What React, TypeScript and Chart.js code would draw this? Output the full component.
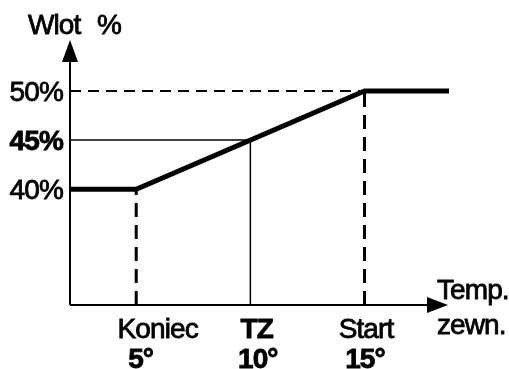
import React, { useEffect, useRef } from "react";
import { Chart, registerables } from "chart.js";

Chart.register(...registerables);

// Scale limits (axis origin and extents)
const X_MIN = 2.1;
const X_MAX = 18.7;
const Y_MIN = 28.2;
const Y_MAX = 55.2;

// Main curve: Wlot % vs outside temperature
const curveX = [X_MIN, 5, 15, X_MAX];
const curveY = [40, 40, 50, 50];

// Tick labels
const yTickValues = [40, 45, 50];
const yTickLabels = ["40%", "45%", "50%"];
const yTickBold = [false, true, false];

const xTickValues = [5, 10, 15];
const xTickNames = ["Koniec", "TZ", "Start"];
const xTickDegrees = ["5°", "10°", "15°"];
const xTickNameBold = [false, true, false];

const yAxisTitle = ["Wlot", "%"];
const xAxisTitle = ["Temp.", "zewn."];

const FONT = "'Liberation Sans', Arial, sans-serif";
const SIZE = 28;
// label shifts (px) relative to the tick position
const NAME_SHIFT = [21, 6, 1];
const DEG_SHIFT = [4, 7, 0];

function pts(xs: number[], ys: number[]) {
  return xs.map((x, i) => ({ x, y: ys[i] }));
}

function txt(ctx: any, s: string, x: number, y: number, align: string, bold: boolean) {
  ctx.font = `${bold ? "bold " : ""}${SIZE}px ${FONT}`;
  ctx.letterSpacing = "-0.9px";
  const w = ctx.measureText(s).width - 0.9;
  let x0 = x;
  if (align === "right") x0 = x - w;
  else if (align === "center") x0 = x - w / 2;
  ctx.textAlign = "left";
  ctx.fillText(s, x0, y);
  ctx.lineWidth = 0.8;
  ctx.strokeText(s, x0, y);
}

const overlay = {
  id: "overlay",
  afterDatasetsDraw(chart: any) {
    const { ctx, chartArea, scales } = chart;
    const xs = scales.x;
    const ys = scales.y;
    const left = chartArea.left;
    const bottom = chartArea.bottom;
    const top = chartArea.top;
    const right = chartArea.right;
    ctx.save();
    ctx.fillStyle = "#000";
    ctx.strokeStyle = "#000";
    // Y axis
    ctx.lineWidth = 2;
    ctx.beginPath();
    ctx.moveTo(left, bottom);
    ctx.lineTo(left, top + 20);
    ctx.stroke();
    ctx.beginPath();
    ctx.moveTo(left, top);
    ctx.lineTo(left - 8, top + 22);
    ctx.lineTo(left + 8, top + 22);
    ctx.closePath();
    ctx.fill();
    // X axis
    ctx.beginPath();
    ctx.moveTo(left, bottom);
    ctx.lineTo(right - 20, bottom);
    ctx.stroke();
    ctx.beginPath();
    ctx.moveTo(right - 1, bottom);
    ctx.lineTo(right - 22, bottom - 8);
    ctx.lineTo(right - 22, bottom + 8);
    ctx.closePath();
    ctx.fill();

    // Y tick labels
    ctx.textBaseline = "alphabetic";
    yTickValues.forEach((v, i) => {
      txt(ctx, yTickLabels[i], left - 8, ys.getPixelForValue(v) + 10, "right", yTickBold[i]);
    });

    // X tick labels
    xTickValues.forEach((v, i) => {
      const px = xs.getPixelForValue(v);
      txt(ctx, xTickNames[i], px + NAME_SHIFT[i], bottom + 33, "center", xTickNameBold[i]);
      txt(ctx, xTickDegrees[i], px + DEG_SHIFT[i], bottom + 63, "center", true);
    });

    // Axis titles
    txt(ctx, yAxisTitle[0], left - 42, top - 6, "left", false);
    txt(ctx, yAxisTitle[1], left + 27, top - 6, "left", false);
    txt(ctx, xAxisTitle[0], right - 12, bottom - 6, "left", false);
    txt(ctx, xAxisTitle[1], right - 12, bottom + 29, "left", false);
    ctx.restore();
  },
};

export default function App() {
  const ref = useRef<HTMLCanvasElement>(null);
  useEffect(() => {
    if (!ref.current) return;
    const thin = { pointRadius: 0, borderColor: "#000", fill: false, showLine: true };
    const chart = new Chart(ref.current, {
      type: "scatter",
      data: {
        datasets: [
          { ...thin, data: pts([X_MIN, 15], [50, 50]), borderWidth: 2, borderDash: [11, 7] },
          { ...thin, data: pts([5, 5], [Y_MIN, 40]), borderWidth: 3, borderDash: [14, 8] },
          { ...thin, data: pts([15, 15], [Y_MIN, 50]), borderWidth: 3, borderDash: [14, 8] },
          { ...thin, data: pts([X_MIN, 10], [45, 45]), borderWidth: 1.5 },
          { ...thin, data: pts([10, 10], [Y_MIN, 45]), borderWidth: 1.5 },
          {
            ...thin,
            data: pts(curveX, curveY),
            borderWidth: 5,
            borderJoinStyle: "miter",
            borderCapStyle: "butt",
          },
        ] as any,
      },
      options: {
        animation: false,
        responsive: false,
        maintainAspectRatio: false,
        layout: { padding: { left: 70, right: 60, top: 40, bottom: 64 } },
        plugins: { legend: { display: false }, tooltip: { enabled: false } },
        scales: {
          x: { type: "linear", min: X_MIN, max: X_MAX, display: false },
          y: { type: "linear", min: Y_MIN, max: Y_MAX, display: false },
        },
      },
      plugins: [overlay],
    });
    return () => chart.destroy();
  }, []);
  return (
    <div style={{ position: "absolute", left: 0, top: 0, width: 509, height: 369, background: "#fff" }}>
      <canvas ref={ref} width={509} height={369} style={{ width: 509, height: 369 }} />
    </div>
  );
}
